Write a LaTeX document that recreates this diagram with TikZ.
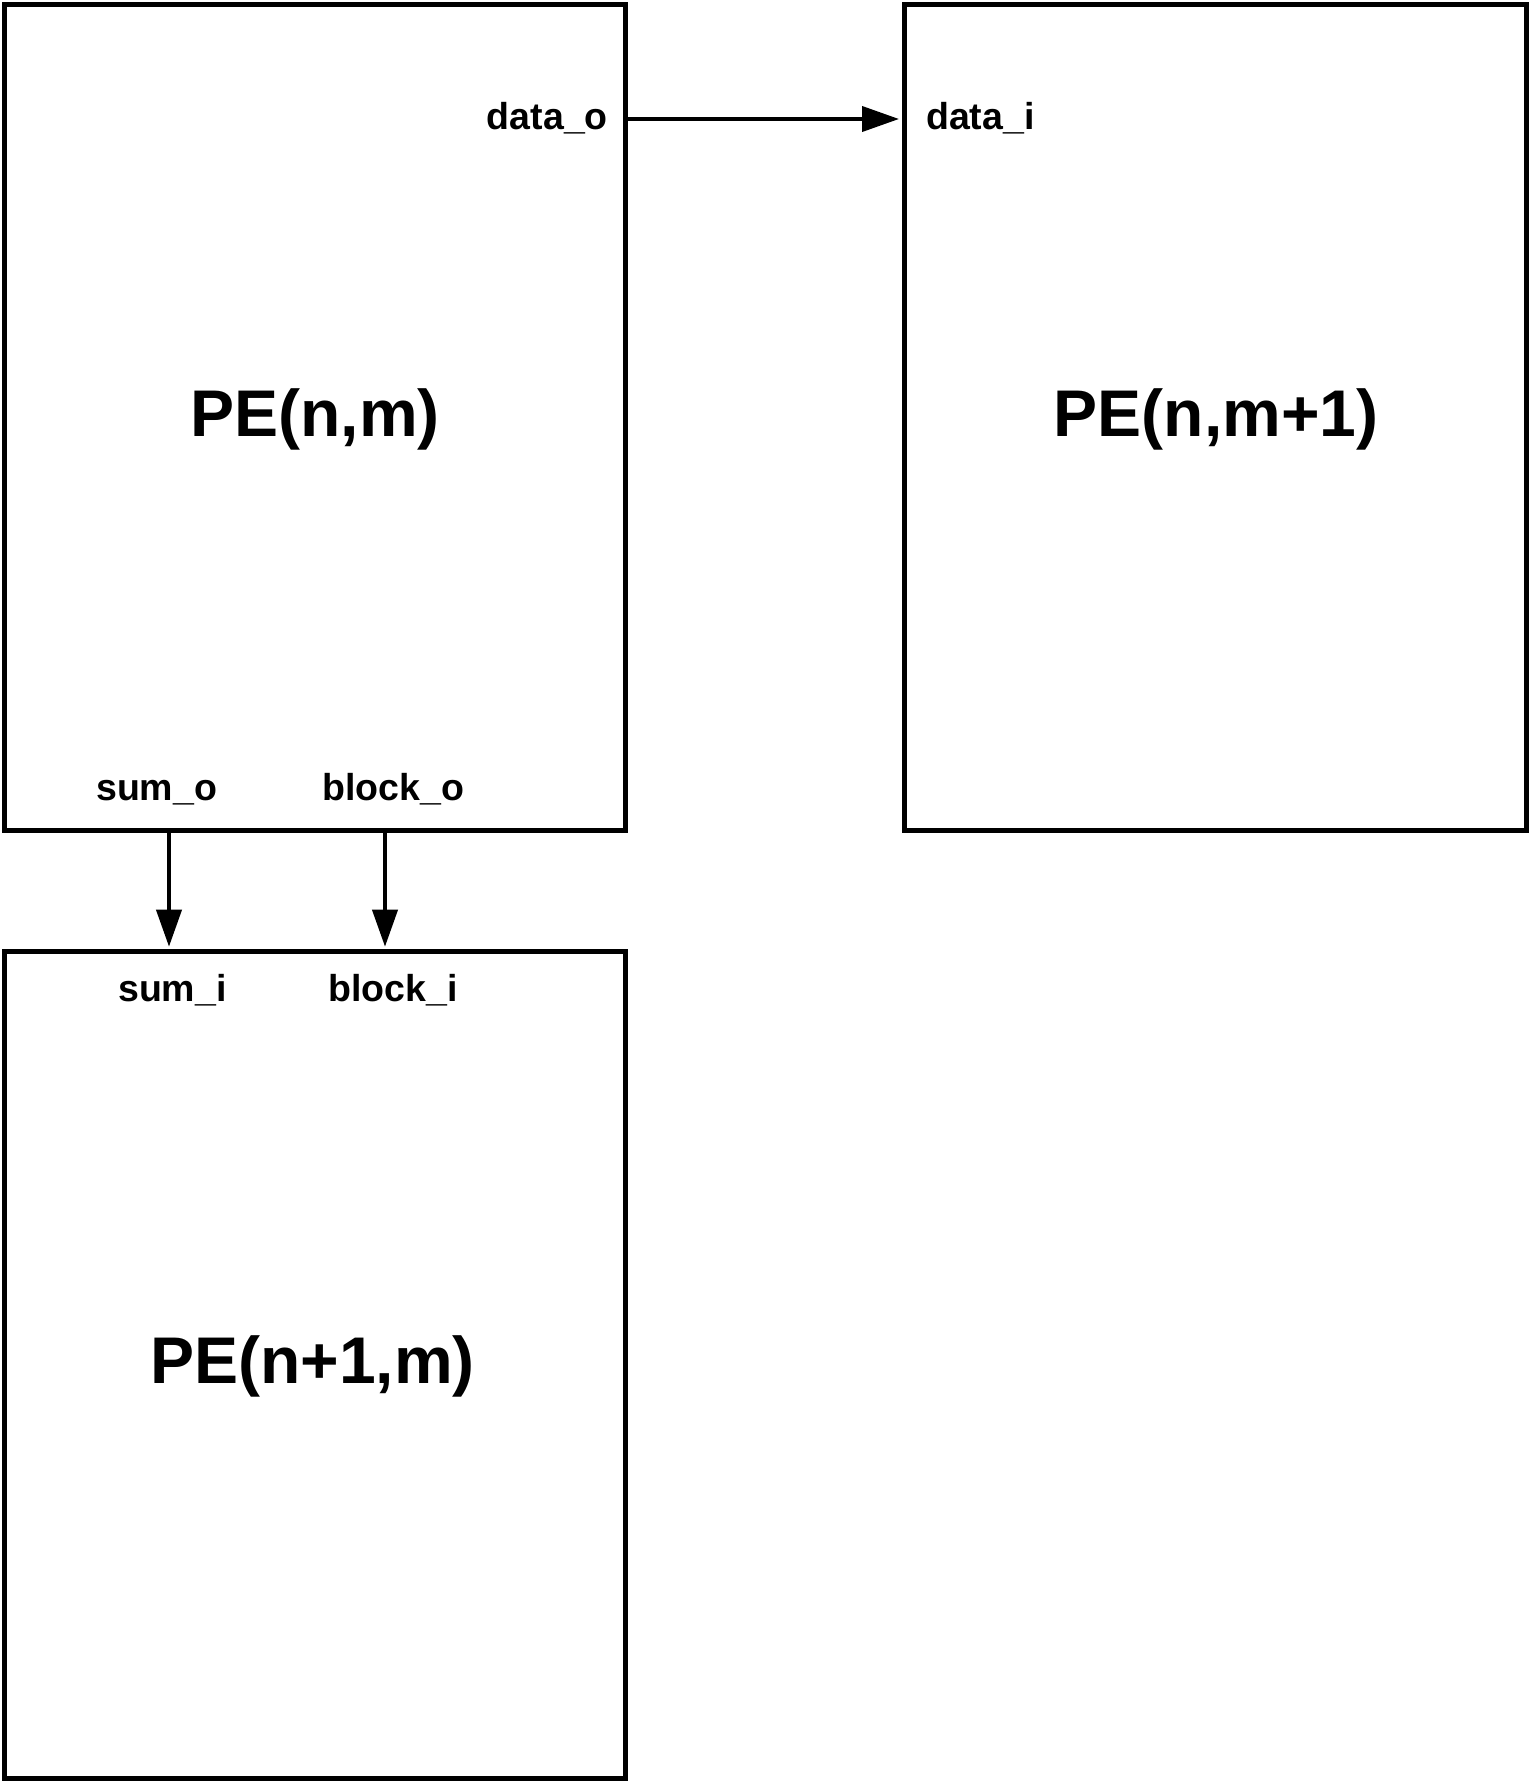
\documentclass[tikz,border=0pt]{standalone}
\usepackage{fontspec}
\setmainfont{Liberation Sans}
\usetikzlibrary{arrows.meta}
\begin{document}
\begin{tikzpicture}[x=1pt,y=-1pt,
  pebox/.style={draw=black, line width=5pt, rectangle, inner sep=0pt,
    minimum width=621pt},
  port/.style={inner sep=0pt, font=\fontsize{37.5}{45}\selectfont\bfseries},
  title/.style={inner sep=0pt, font=\fontsize{66}{79}\selectfont\bfseries},
  arr/.style={line width=4pt, -{Triangle[width=25pt,length=37pt]}, shorten >=2.5pt}]
\useasboundingbox (0,0) rectangle (1530,1782);
\node[pebox, minimum height=825.5pt] (b1) at (315,417.25) {};
\node[pebox, minimum width=622pt, minimum height=825.5pt] (b2) at (1215,417.25) {};
\node[pebox, minimum height=826.3pt] (b3) at (315,1364.85) {};
\node[title, anchor=base] (t1) at (315,436) {PE(n,m)};
\node[title, anchor=base] (t2) at (1216,436) {PE(n,m+1)};
\node[title, anchor=base] (t3) at (312.5,1383) {PE(n+1,m)};
\node[port, anchor=base east] (dato) at (608,130) {data\_o};
\node[port, anchor=base west] (dati) at (926,130) {data\_i};
\node[port, anchor=base west] (sumo) at (96,800) {sum\_o};
\node[port, anchor=base west] (blko) at (322,800) {block\_o};
\node[port, anchor=base west] (sumi) at (118,1001) {sum\_i};
\node[port, anchor=base west] (blki) at (328,1001) {block\_i};
\coordinate (ya) at (0,119);
\coordinate (xs) at (169,0);
\coordinate (xb) at (385,0);
\draw[arr] (b1.east |- ya) -- (b2.west |- ya);
\draw[arr] (b1.south -| xs) -- (b3.north -| xs);
\draw[arr] (b1.south -| xb) -- (b3.north -| xb);
\end{tikzpicture}
\end{document}
